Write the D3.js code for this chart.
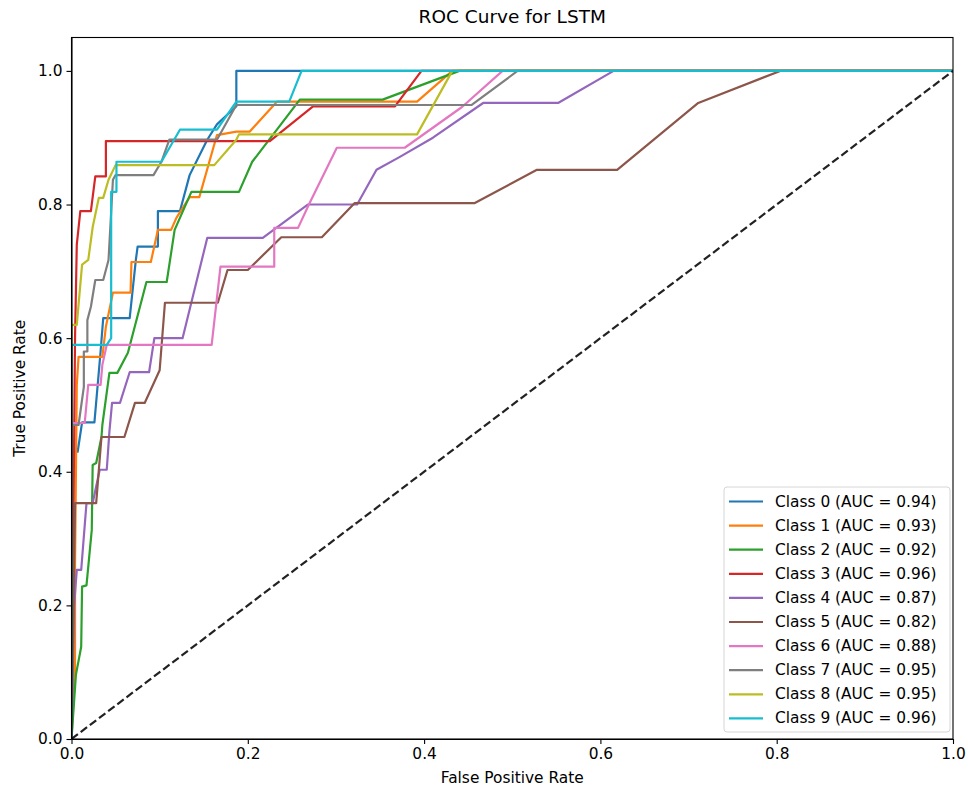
<!DOCTYPE html>
<html>
<head>
<meta charset="utf-8">
<script src="https://cdn.jsdelivr.net/npm/d3@7"></script>
<style>
    body { margin: 0; background: #fff; }
    svg { display: block; font-family: "DejaVu Sans", sans-serif; }
    .axis path, .axis line { stroke: #000; stroke-width: 1.1px; }
    .axis text { fill: #000; font-size: 15.4px; font-family: "DejaVu Sans", sans-serif; }
</style>
</head>
<body>
<div id="chart"></div>
<script>
// ROC points per class: [false positive rate, true positive rate]
const class0 = [[0, 0], [0, 0.43], [0.007, 0.43], [0.012, 0.474], [0.026, 0.474], [0.033, 0.58], [0.036, 0.63], [0.066, 0.63], [0.073, 0.717], [0.075, 0.737], [0.098, 0.737], [0.098, 0.79], [0.123, 0.79], [0.134, 0.844], [0.154, 0.897], [0.165, 0.92], [0.187, 0.947], [0.187, 1], [1, 1]];
const class1 = [[0, 0], [0.004, 0.1], [0.004, 0.26], [0.006, 0.53], [0.008, 0.572], [0.035, 0.572], [0.039, 0.617], [0.047, 0.668], [0.067, 0.668], [0.068, 0.714], [0.09, 0.714], [0.098, 0.762], [0.113, 0.762], [0.119, 0.78], [0.134, 0.811], [0.145, 0.811], [0.165, 0.904], [0.187, 0.909], [0.202, 0.909], [0.233, 0.954], [0.392, 0.954], [0.432, 1], [1, 1]];
const class2 = [[0, 0], [0.005, 0.096], [0.011, 0.138], [0.012, 0.228], [0.017, 0.23], [0.023, 0.313], [0.024, 0.41], [0.028, 0.413], [0.034, 0.452], [0.035, 0.47], [0.043, 0.548], [0.052, 0.548], [0.064, 0.578], [0.085, 0.684], [0.108, 0.684], [0.117, 0.762], [0.136, 0.819], [0.19, 0.819], [0.205, 0.864], [0.233, 0.912], [0.259, 0.957], [0.353, 0.957], [0.44, 1], [1, 1]];
const class3 = [[0, 0], [0.004, 0.6], [0.006, 0.74], [0.01, 0.79], [0.022, 0.79], [0.027, 0.842], [0.039, 0.842], [0.039, 0.895], [0.225, 0.895], [0.274, 0.947], [0.367, 0.947], [0.397, 1], [1, 1]];
const class4 = [[0, 0], [0.003, 0.2], [0.006, 0.253], [0.011, 0.253], [0.017, 0.353], [0.024, 0.353], [0.032, 0.403], [0.04, 0.403], [0.043, 0.46], [0.046, 0.503], [0.055, 0.503], [0.066, 0.549], [0.088, 0.549], [0.094, 0.6], [0.126, 0.6], [0.154, 0.75], [0.217, 0.75], [0.268, 0.8], [0.324, 0.8], [0.346, 0.852], [0.372, 0.871], [0.41, 0.9], [0.467, 0.952], [0.552, 0.952], [0.615, 1], [1, 1]];
const class5 = [[0, 0], [0.004, 0.353], [0.028, 0.353], [0.034, 0.452], [0.06, 0.452], [0.072, 0.503], [0.083, 0.503], [0.1, 0.552], [0.106, 0.653], [0.166, 0.653], [0.177, 0.702], [0.2, 0.702], [0.238, 0.751], [0.284, 0.751], [0.321, 0.802], [0.457, 0.802], [0.528, 0.852], [0.619, 0.852], [0.711, 0.952], [0.804, 1], [1, 1]];
const class6 = [[0, 0], [0, 0.473], [0.015, 0.473], [0.019, 0.53], [0.033, 0.53], [0.035, 0.56], [0.04, 0.59], [0.159, 0.59], [0.169, 0.707], [0.23, 0.707], [0.23, 0.765], [0.257, 0.765], [0.27, 0.802], [0.301, 0.885], [0.378, 0.885], [0.443, 0.946], [0.489, 1], [1, 1]];
const class7 = [[0, 0], [0, 0.47], [0.008, 0.47], [0.014, 0.527], [0.014, 0.58], [0.018, 0.58], [0.018, 0.627], [0.022, 0.647], [0.027, 0.687], [0.036, 0.687], [0.042, 0.717], [0.047, 0.837], [0.05, 0.844], [0.093, 0.844], [0.102, 0.864], [0.111, 0.897], [0.165, 0.897], [0.187, 0.949], [0.454, 0.949], [0.506, 1], [1, 1]];
const class8 = [[0, 0], [0, 0.62], [0.006, 0.62], [0.012, 0.71], [0.019, 0.717], [0.024, 0.766], [0.031, 0.81], [0.036, 0.81], [0.042, 0.837], [0.05, 0.859], [0.162, 0.859], [0.187, 0.897], [0.19, 0.905], [0.392, 0.905], [0.432, 1], [1, 1]];
const class9 = [[0, 0], [0, 0.59], [0.04, 0.59], [0.045, 0.6], [0.045, 0.819], [0.051, 0.819], [0.051, 0.864], [0.102, 0.864], [0.123, 0.912], [0.165, 0.912], [0.187, 0.954], [0.247, 0.954], [0.261, 1], [1, 1]];

const classNames = ["Class 0", "Class 1", "Class 2", "Class 3", "Class 4", "Class 5", "Class 6", "Class 7", "Class 8", "Class 9"];
const aucValues = [0.94, 0.93, 0.92, 0.96, 0.87, 0.82, 0.88, 0.95, 0.95, 0.96];
const xTicks = [0, 0.2, 0.4, 0.6, 0.8, 1.0];
const yTicks = [0, 0.2, 0.4, 0.6, 0.8, 1.0];
const chanceLine = [[0, 0], [1, 1]];

const WIDTH = 968;
const HEIGHT = 791;
const MARGIN = { top: 37.5, right: 15, bottom: 52, left: 71.5 };
const COLORS = d3.schemeCategory10;
const FONT_SIZE = 15.4;

const series = [class0, class1, class2, class3, class4, class5, class6, class7, class8, class9]
    .map((points, i) => ({ key: `${ classNames[i] } (AUC = ${ aucValues[i].toFixed(2) })`, points }));

const svg = d3.select("#chart")
    .append("svg")
    .attr("width", WIDTH)
    .attr("height", HEIGHT);

const x = d3.scaleLinear()
    .domain([0, 1])
    .range([MARGIN.left, WIDTH - MARGIN.right]);

const y = d3.scaleLinear()
    .domain([0, 1.05])
    .range([HEIGHT - MARGIN.bottom, MARGIN.top]);

svg.append("clipPath")
    .attr("id", "plot-clip")
    .append("rect")
    .attr("x", x(0))
    .attr("y", y(1.05))
    .attr("width", x(1) - x(0))
    .attr("height", y(0) - y(1.05));

const line = d3.line()
    .x(d => x(d[0]))
    .y(d => y(d[1]));

const plot = svg.append("g").attr("clip-path", "url(#plot-clip)");

plot.selectAll(".roc")
    .data(series)
    .enter()
    .append("path")
    .attr("class", "roc")
    .attr("fill", "none")
    .attr("stroke", (d, i) => COLORS[i])
    .attr("stroke-width", 2.2)
    .attr("stroke-linejoin", "round")
    .attr("d", d => line(d.points));

plot.append("path")
    .attr("fill", "none")
    .attr("stroke", "#222")
    .attr("stroke-width", 2.2)
    .attr("stroke-dasharray", "8,3.5")
    .attr("d", line(chanceLine));

// axes
svg.append("g")
    .attr("class", "axis")
    .attr("transform", `translate(0, ${ y(0) })`)
    .call(d3.axisBottom(x).tickValues(xTicks).tickFormat(d3.format(".1f")).tickSize(5).tickSizeOuter(0).tickPadding(4));

svg.append("g")
    .attr("class", "axis")
    .attr("transform", `translate(${ x(0) }, 0)`)
    .call(d3.axisLeft(y).tickValues(yTicks).tickFormat(d3.format(".1f")).tickSize(5).tickSizeOuter(0).tickPadding(4));

// frame
svg.append("rect")
    .attr("x", x(0))
    .attr("y", y(1.05))
    .attr("width", x(1) - x(0))
    .attr("height", y(0) - y(1.05))
    .attr("fill", "none")
    .attr("stroke", "#000")
    .attr("stroke-width", 1.1);

svg.append("text")
    .attr("x", (x(0) + x(1)) / 2)
    .attr("y", 23)
    .attr("text-anchor", "middle")
    .attr("font-size", 18.5)
    .text("ROC Curve for LSTM");

svg.append("text")
    .attr("x", (x(0) + x(1)) / 2)
    .attr("y", 783)
    .attr("text-anchor", "middle")
    .attr("font-size", FONT_SIZE)
    .text("False Positive Rate");

svg.append("text")
    .attr("transform", `translate(25, ${ (y(0) + y(1.05)) / 2 }) rotate(-90)`)
    .attr("text-anchor", "middle")
    .attr("font-size", FONT_SIZE)
    .text("True Positive Rate");

// legend
const LEGEND = { x: 724, y: 487, width: 226, height: 245, rowY: 14.5, rowHeight: 24.1 };

const legend = svg.append("g")
    .attr("transform", `translate(${ LEGEND.x }, ${ LEGEND.y })`);

legend.append("rect")
    .attr("width", LEGEND.width)
    .attr("height", LEGEND.height)
    .attr("rx", 3)
    .attr("fill", "#fff")
    .attr("fill-opacity", 0.8)
    .attr("stroke", "#d6d6d6")
    .attr("stroke-width", 1);

const cell = legend.selectAll(".legend-cell")
    .data(series)
    .enter()
    .append("g")
    .attr("class", "legend-cell")
    .attr("transform", (d, i) => `translate(0, ${ LEGEND.rowY + i * LEGEND.rowHeight })`);

cell.append("line")
    .attr("x1", 5)
    .attr("x2", 39)
    .attr("stroke", (d, i) => COLORS[i])
    .attr("stroke-width", 2.2);

cell.append("text")
    .attr("x", 51)
    .attr("dominant-baseline", "central")
    .attr("font-size", FONT_SIZE)
    .attr("fill", "#000")
    .text(d => d.key);
</script>
</body>
</html>
